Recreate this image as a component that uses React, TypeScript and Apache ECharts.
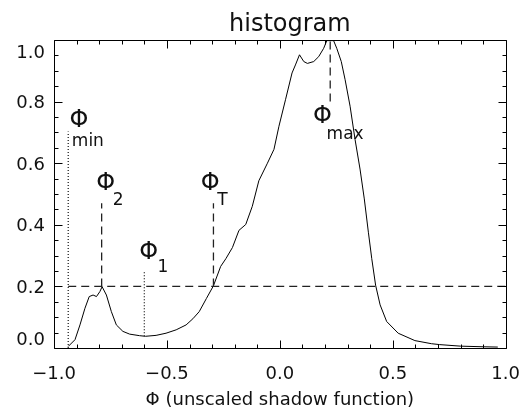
import React, { useEffect, useRef } from "react";
import * as echarts from "echarts";

// Histogram curve (Φ, normalised count)
const phiValues = [
  -0.937, -0.907, -0.885, -0.863, -0.844, -0.827, -0.812, -0.797, -0.787, -0.768,
  -0.746, -0.724, -0.695, -0.665, -0.621, -0.595, -0.548, -0.504, -0.459, -0.415,
  -0.385, -0.357, -0.325, -0.294, -0.262, -0.239, -0.210, -0.181, -0.151, -0.122,
  -0.093, -0.055, -0.026, -0.004, 0.025, 0.054, 0.069, 0.087, 0.106, 0.122,
  0.150, 0.172, 0.194, 0.208, 0.238, 0.252, 0.272, 0.289, 0.311, 0.333,
  0.355, 0.374, 0.392, 0.407, 0.424, 0.444, 0.473, 0.524, 0.598, 0.671,
  0.708, 0.800, 0.900, 0.965,
];
const countValues = [
  0.005, 0.027, 0.075, 0.129, 0.167, 0.172, 0.167, 0.183, 0.199, 0.172,
  0.118, 0.075, 0.054, 0.045, 0.040, 0.038, 0.041, 0.048, 0.059, 0.075,
  0.095, 0.118, 0.161, 0.202, 0.265, 0.290, 0.326, 0.382, 0.401, 0.460,
  0.543, 0.600, 0.645, 0.720, 0.806, 0.893, 0.919, 0.952, 0.930, 0.924,
  0.930, 0.946, 0.973, 0.998, 0.998, 0.973, 0.930, 0.871, 0.785, 0.677,
  0.581, 0.484, 0.376, 0.290, 0.204, 0.140, 0.086, 0.048, 0.024, 0.014,
  0.011, 0.006, 0.004, 0.003,
];

// Reference markers
const phiMin = -0.937;
const phi2 = -0.789;
const phi1 = -0.6;
const phiT = -0.294;
const phiMax = 0.223;
const threshold = 0.2;

// Annotation labels: subscript, glyph centre (x, y), subscript left x / centre y
const labelNames = ["min", "2", "T", "1", "max"];
const labelGlyphX = [-0.89, -0.771, -0.308, -0.581, 0.189];
const labelGlyphY = [0.745, 0.54, 0.54, 0.315, 0.758];
const labelSubX = [-0.921, -0.74, -0.277, -0.542, 0.207];
const labelSubY = [0.674, 0.483, 0.483, 0.267, 0.698];

// Axes
const xTicks = { min: -1, max: 1, interval: 0.5, minorSplit: 5 };
const yTicks = { min: 0, max: 1, interval: 0.2, minorSplit: 4 };

const FONT = "DejaVu Sans";
const INK = "#111111";

function tickValues(min: number, max: number, step: number) {
  const out: number[] = [];
  const n = Math.round((max - min) / step);
  for (let i = 0; i <= n; i++) out.push(+(min + i * step).toFixed(6));
  return out;
}

const fmt = (v: number) => v.toFixed(1).replace("-", "\u2212");

export default function App() {
  const ref = useRef<HTMLDivElement>(null);
  useEffect(() => {
    if (!ref.current) return;
    const chart = echarts.init(ref.current, undefined, { renderer: "svg" });
    const curve = phiValues.map((x, i) => [x, countValues[i]]);
    const refLine = (data: number[][], type: any) => ({
      type: "line",
      data,
      showSymbol: false,
      symbol: "none",
      lineStyle: { color: "#222222", width: 1.3, type },
      silent: true,
    });

    const xMajor = tickValues(xTicks.min, xTicks.max, xTicks.interval);
    const xMinor = tickValues(xTicks.min, xTicks.max, xTicks.interval / xTicks.minorSplit);
    const yMajor = tickValues(yTicks.min, yTicks.max, yTicks.interval);
    const yMinor = tickValues(yTicks.min, yTicks.max, yTicks.interval / yTicks.minorSplit);

    // frame, inward ticks on all four sides, end labels and Φ annotations, placed through the axis scales
    const decorSeries = {
      type: "custom",
      silent: true,
      z: 5,
      data: [[0, 0]],
      renderItem: (_params: any, api: any) => {
        const children: any[] = [];
        const seg = (x1: number, y1: number, x2: number, y2: number) =>
          children.push({
            type: "line",
            shape: { x1, y1, x2, y2 },
            style: { stroke: "black", lineWidth: 1 },
          });
        const bottom = Math.round(api.coord([xTicks.min, yTicks.min])[1]) + 0.5;
        const top = Math.round(api.coord([xTicks.min, yTicks.max])[1]) + 0.5;
        const left = Math.round(api.coord([xTicks.min, yTicks.min])[0]) + 0.5;
        const right = Math.round(api.coord([xTicks.max, yTicks.min])[0]) + 0.5;
        seg(left, top, right, top);
        seg(left, bottom, right, bottom);
        seg(left, top, left, bottom);
        seg(right, top, right, bottom);
        xMinor.forEach((v) => {
          const major = xMajor.some((m) => Math.abs(m - v) < 1e-6);
          const len = major ? 8 : 4;
          const px = Math.round(api.coord([v, yTicks.min])[0]) + 0.5;
          seg(px, bottom, px, bottom - len);
          seg(px, top, px, top + len);
        });
        yMinor.forEach((v) => {
          const major = yMajor.some((m) => Math.abs(m - v) < 1e-6);
          const len = major ? 8 : 4;
          const py = Math.round(api.coord([xTicks.min, v])[1]) + 0.5;
          seg(left, py, left + len, py);
          seg(right, py, right - len, py);
        });
        // y-axis end labels kept inside the frame height
        [
          { v: yTicks.max, va: "top", dy: 2 },
          { v: yTicks.min, va: "bottom", dy: -1 },
        ].forEach((e) => {
          const p = api.coord([xTicks.min, e.v]);
          children.push({
            type: "text",
            x: p[0] - 9,
            y: p[1] + e.dy,
            style: {
              text: fmt(e.v),
              font: `18px "${FONT}"`,
              fill: INK,
              align: "right",
              verticalAlign: e.va,
            },
          });
        });
        labelNames.forEach((sub, i) => {
          const g = api.coord([labelGlyphX[i], labelGlyphY[i]]);
          const s = api.coord([labelSubX[i], labelSubY[i]]);
          children.push({
            type: "text",
            x: g[0],
            y: g[1],
            style: {
              text: "\u03A6",
              font: `24px "${FONT}"`,
              fill: INK,
              align: "center",
              verticalAlign: "middle",
            },
          });
          children.push({
            type: "text",
            x: s[0],
            y: s[1],
            style: {
              text: sub,
              font: `17px "${FONT}"`,
              fill: INK,
              align: "left",
              verticalAlign: "middle",
            },
          });
        });
        return { type: "group", children };
      },
    };

    chart.setOption({
      animation: false,
      title: {
        text: "histogram",
        left: 224,
        top: 6,
        textStyle: { fontFamily: FONT, fontSize: 24, fontWeight: "normal", color: INK },
      },
      grid: { left: 54, right: 15, top: 40, bottom: 62 },
      xAxis: {
        type: "value",
        min: xTicks.min,
        max: xTicks.max,
        interval: xTicks.interval,
        axisLine: { show: false },
        axisTick: { show: false },
        splitLine: { show: false },
        axisLabel: {
          show: true,
          formatter: fmt,
          fontFamily: FONT,
          fontSize: 18,
          color: INK,
          margin: 15,
        },
        name: "\u03A6 (unscaled shadow function)",
        nameLocation: "middle",
        nameGap: 41,
        nameTextStyle: { fontFamily: FONT, fontSize: 18, color: INK },
      },
      yAxis: {
        type: "value",
        min: yTicks.min,
        max: yTicks.max,
        interval: yTicks.interval,
        axisLine: { show: false },
        axisTick: { show: false },
        splitLine: { show: false },
        axisLabel: {
          show: true,
          showMinLabel: false,
          showMaxLabel: false,
          formatter: fmt,
          fontFamily: FONT,
          fontSize: 18,
          color: INK,
          margin: 9,
        },
      },
      series: [
        {
          type: "line",
          data: curve,
          showSymbol: false,
          symbol: "none",
          lineStyle: { color: "#000000", width: 1 },
        },
        refLine([[phiMin, threshold], [xTicks.max, threshold]], [8, 5]),
        refLine([[phiMin, 0], [phiMin, 0.703]], [1, 2]),
        refLine([[phi2, threshold], [phi2, 0.47]], [8, 5]),
        refLine([[phiT, threshold], [phiT, 0.47]], [8, 5]),
        refLine([[phi1, 0.038], [phi1, 0.25]], [1, 2]),
        refLine([[phiMax, 0.8], [phiMax, 1.0]], [8, 5]),
        decorSeries,
      ],
    });

    return () => chart.dispose();
  }, []);
  return <div ref={ref} style={{ position: "fixed", left: 0, top: 0, width: 523, height: 412 }} />;
}
